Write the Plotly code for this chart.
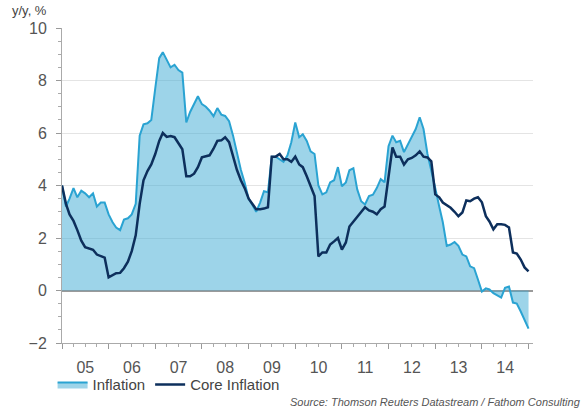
import pandas as pd
import plotly.graph_objects as go

# Monthly observations, Jan 2005 - Jan 2015
dates = pd.date_range("2005-01-01", periods=121, freq="MS")

inflation = [
    4.0, 3.2, 3.5, 3.9, 3.55, 3.8, 3.7, 3.55, 3.7, 3.2, 3.35, 3.35,      # 2005
    2.9, 2.6, 2.4, 2.3, 2.7, 2.75, 2.9, 3.3, 5.9, 6.33, 6.37, 6.5,       # 2006
    7.7, 8.85, 9.08, 8.8, 8.5, 8.6, 8.4, 8.3, 6.4, 6.8, 7.1, 7.4,        # 2007
    7.1, 7.0, 6.85, 6.64, 6.95, 6.7, 6.65, 6.45, 5.9, 5.2, 4.6, 4.1,     # 2008
    3.5, 3.25, 3.0, 3.35, 3.78, 3.74, 5.1, 5.1, 5.0, 4.9, 5.15, 5.65,    # 2009
    6.4, 5.84, 5.95, 5.7, 5.3, 5.2, 4.0, 3.66, 3.74, 4.12, 4.2, 4.7,     # 2010
    3.97, 4.12, 4.58, 4.66, 3.85, 3.4, 3.28, 3.6, 3.65, 3.9, 4.24, 4.12, # 2011
    5.5, 5.9, 5.65, 5.7, 5.27, 5.55, 5.84, 6.15, 6.6, 6.15, 5.2, 4.6,    # 2012
    3.9, 3.2, 2.6, 1.7, 1.75, 1.85, 1.7, 1.37, 1.3, 0.92, 0.85, 0.42,    # 2013
    -0.04, 0.08, 0.04, -0.1, -0.19, -0.27, 0.1, 0.15, -0.46, -0.5, -0.8, -1.1,  # 2014
    -1.45,                                                                # 2015
]

core_inflation = [
    4.0, 3.3, 2.9, 2.65, 2.3, 1.9, 1.65, 1.6, 1.55, 1.37, 1.32, 1.25,    # 2005
    0.5, 0.6, 0.66, 0.67, 0.85, 1.1, 1.5, 2.1, 3.3, 4.2, 4.55, 4.8,      # 2006
    5.2, 5.7, 6.0, 5.85, 5.88, 5.84, 5.6, 5.38, 4.35, 4.35, 4.45, 4.7,   # 2007
    5.07, 5.1, 5.15, 5.4, 5.7, 5.72, 5.84, 5.65, 5.1, 4.6, 4.2, 3.9,     # 2008
    3.5, 3.3, 3.1, 3.1, 3.12, 3.17, 5.1, 5.1, 5.2, 5.0, 5.0, 4.9,        # 2009
    5.1, 4.8, 4.7, 4.35, 4.0, 3.6, 1.3, 1.45, 1.45, 1.75, 1.87, 2.0,     # 2010
    1.56, 1.83, 2.44, 2.63, 2.8, 3.0, 3.17, 3.05, 3.0, 2.9, 3.1, 3.2,    # 2011
    4.35, 5.45, 5.1, 5.1, 4.8, 5.0, 5.05, 5.15, 5.3, 5.1, 5.07, 4.92,    # 2012
    3.66, 3.55, 3.35, 3.25, 3.15, 3.0, 2.83, 2.97, 3.43, 3.4, 3.5, 3.55, # 2013
    3.36, 2.83, 2.63, 2.33, 2.52, 2.52, 2.5, 2.4, 1.45, 1.41, 1.18, 0.88,  # 2014
    0.73,                                                                 # 2015
]

series_names = ["Inflation", "Core Inflation"]
y_title = "y/y, %"
source_text = "Source: Thomson Reuters Datastream / Fathom Consulting"

FONT = "Liberation Sans, Arial, sans-serif"
GREY = "#555555"

fig = go.Figure()
fig.add_trace(go.Scatter(
    x=dates, y=inflation, name=series_names[0], mode="lines",
    line=dict(color="#2aa3d2", width=2),
    fill="tozeroy", fillcolor="rgba(60,170,212,0.5)",
))
fig.add_trace(go.Scatter(
    x=dates, y=core_inflation, name=series_names[1], mode="lines",
    line=dict(color="#0d2f5c", width=2.5),
))

fig.update_layout(
    width=588, height=410,
    margin=dict(l=62, r=55, t=28, b=67, autoexpand=False),
    paper_bgcolor="white", plot_bgcolor="white",
    font=dict(family=FONT, color=GREY),
    showlegend=True,
    legend=dict(
        orientation="h", x=-0.02, y=-0.08, xanchor="left", yanchor="top",
        font=dict(size=15, color="#444444"), bgcolor="rgba(0,0,0,0)",
        itemwidth=30, tracegroupgap=0,
    ),
    annotations=[
        dict(text=y_title, xref="paper", yref="paper", x=-0.07, y=1.054,
             xanchor="center", yanchor="middle", showarrow=False,
             font=dict(size=13, color="#444444")),
        dict(text="<i>" + source_text + "</i>", xref="paper", yref="paper",
             x=1.106, y=-0.187, xanchor="right", yanchor="middle", showarrow=False,
             font=dict(size=11, color="#555555")),
    ],
)

fig.update_xaxes(
    type="date", automargin=False,
    range=["2005-01-01", "2015-02-05"],
    tick0="2005-01-01", dtick="M12", tickformat="%y",
    ticklabelmode="period",
    ticks="outside", ticklen=5, tickcolor="#999999",
    minor=dict(dtick="M3", ticks="outside", ticklen=3, tickcolor="#aaaaaa", showgrid=False),
    showline=True, linecolor="#aaaaaa", linewidth=1,
    showgrid=False, zeroline=False,
    tickfont=dict(size=16, color=GREY),
    ticklabelstandoff=5,
)
fig.update_yaxes(
    automargin=False,
    range=[-2, 10], dtick=2, tick0=0,
    ticks="outside", ticklen=5, tickcolor="#999999",
    minor=dict(dtick=0.5, ticks="outside", ticklen=3, tickcolor="#aaaaaa", showgrid=False),
    showline=True, linecolor="#aaaaaa", linewidth=1,
    showgrid=True, gridcolor="#e4e4e4", gridwidth=1,
    zeroline=True, zerolinecolor="#9a9a9a", zerolinewidth=1.5,
    tickfont=dict(size=16, color=GREY),
    ticklabelstandoff=6,
)

# remove the browser's default 8px page margin so the figure fills the window
fig.write_html(
    "out.html",
    config={"displayModeBar": False},
    post_script="document.body.style.margin='0';",
)
